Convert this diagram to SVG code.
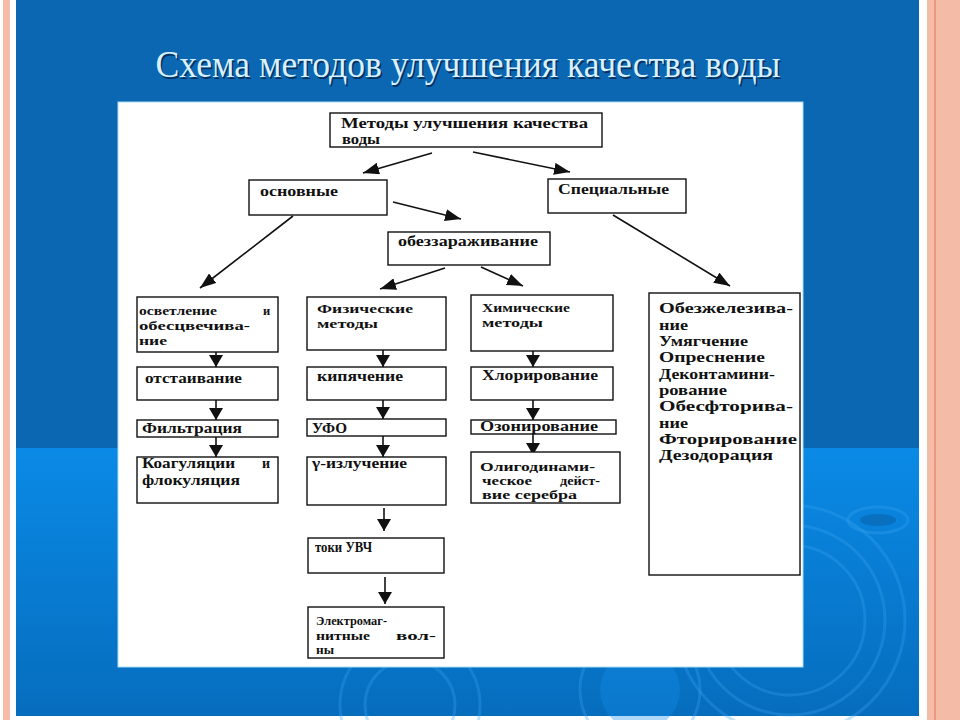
<svg xmlns="http://www.w3.org/2000/svg" width="960" height="720" viewBox="0 0 960 720">
<defs>
<linearGradient id="lowblue" x1="0" y1="0" x2="0" y2="1">
<stop offset="0" stop-color="#0a8ae6"/>
<stop offset="1" stop-color="#066dbd"/>
</linearGradient>
<marker id="ah" viewBox="0 0 16 12" refX="16" refY="6" markerWidth="16" markerHeight="12" orient="auto" markerUnits="userSpaceOnUse"><path d="M0,0 L16,6 L0,12 z" fill="#111"/></marker>
<marker id="ahv" viewBox="0 0 12 14" refX="12" refY="7" markerWidth="12" markerHeight="14" orient="auto" markerUnits="userSpaceOnUse"><path d="M0,0 L12,7 L0,14 z" fill="#111"/></marker>
</defs>
<style>
.box{fill:#fff;stroke:#111;stroke-width:1.4}
.t{font-family:"Liberation Serif","Times New Roman",serif;font-weight:bold;font-size:14px;fill:#111}
.s{font-size:12.5px}
.tl{font-family:"Liberation Serif","Times New Roman",serif;font-weight:bold;font-size:14.5px;fill:#111}
.c{stroke:#111;stroke-width:1.6;fill:none}
.d{marker-end:url(#ah)}
.v{marker-end:url(#ahv)}
.rip{fill:none;stroke:#3aa6f2;stroke-width:3;opacity:.3}
</style>
<!-- background -->
<rect x="0" y="0" width="960" height="720" fill="#fff"/>
<rect x="3" y="0" width="7" height="720" fill="#f6bca8"/>
<rect x="927" y="0" width="33" height="720" fill="#f4bca6"/>
<rect x="934" y="0" width="2" height="720" fill="#ec9a7a"/>
<rect x="16" y="0" width="903" height="448" fill="#0b67b2"/>
<rect x="16" y="448" width="903" height="268" fill="url(#lowblue)"/>
<g id="ripples">
<ellipse cx="878" cy="520" rx="18" ry="6" fill="#0a5ea6" opacity=".5"/>
<ellipse cx="878" cy="520" rx="30" ry="13" class="rip" stroke-width="1.5"/>
<circle cx="790" cy="620" r="75" class="rip"/>
<circle cx="790" cy="620" r="95" class="rip"/>
<circle cx="790" cy="620" r="115" class="rip" stroke-width="2"/>
<circle cx="410" cy="705" r="45" class="rip"/>
<circle cx="410" cy="705" r="70" class="rip" stroke-width="2"/>
<circle cx="640" cy="690" r="40" fill="#1590ec" opacity=".35"/>
<circle cx="640" cy="690" r="60" class="rip" stroke-width="2"/>
</g>
<text x="468" y="77" text-anchor="middle" textLength="625" lengthAdjust="spacingAndGlyphs" font-family="'Liberation Serif','Times New Roman',serif" font-size="38" fill="#08325e" transform="translate(1.5,1.5)">Схема методов улучшения качества воды</text>
<text x="468" y="77" text-anchor="middle" textLength="625" lengthAdjust="spacingAndGlyphs" font-family="'Liberation Serif','Times New Roman',serif" font-size="38" fill="#d8f0ff">Схема методов улучшения качества воды</text>
<rect x="118" y="102" width="685" height="565" fill="#fff" stroke="#a8dcf4" stroke-width="1"/>

<g id="connectors">
<line class="c d" x1="432" y1="153" x2="363" y2="173"/>
<line class="c d" x1="473" y1="152" x2="570" y2="172"/>
<line class="c d" x1="393" y1="202" x2="461" y2="219"/>
<line class="c d" x1="293" y1="216" x2="200" y2="288"/>
<line class="c d" x1="445" y1="268" x2="380" y2="289"/>
<line class="c d" x1="481" y1="267" x2="523" y2="286"/>
<line class="c d" x1="613" y1="215" x2="730" y2="286"/>
<line class="c v" x1="216" y1="343" x2="216" y2="367"/>
<line class="c v" x1="216" y1="393" x2="216" y2="420"/>
<line class="c v" x1="216" y1="437" x2="216" y2="457"/>
<line class="c v" x1="383" y1="343" x2="383" y2="367"/>
<line class="c v" x1="383" y1="393" x2="383" y2="419"/>
<line class="c v" x1="383" y1="432" x2="383" y2="457"/>
<line class="c v" x1="384" y1="508" x2="384" y2="531"/>
<line class="c v" x1="385" y1="577" x2="385" y2="604"/>
<line class="c v" x1="533" y1="343" x2="533" y2="367"/>
<line class="c v" x1="533" y1="393" x2="533" y2="420"/>
<line class="c v" x1="533" y1="430" x2="533" y2="455"/>
</g>

<g id="n-metody">
<rect class="box" x="330" y="113" width="272" height="34"/>
<text class="t" x="341" y="128" textLength="247" lengthAdjust="spacingAndGlyphs">Методы   улучшения   качества</text>
<text class="t" x="342" y="144" textLength="38" lengthAdjust="spacingAndGlyphs">воды</text>
</g>
<g id="n-osnovnye">
<rect class="box" x="249" y="180" width="138" height="35"/>
<text class="t" x="260" y="196" textLength="78" lengthAdjust="spacingAndGlyphs">основные</text>
</g>
<g id="n-specialnye">
<rect class="box" x="548" y="179" width="138" height="34"/>
<text class="t" x="558" y="194" textLength="111" lengthAdjust="spacingAndGlyphs">Специальные</text>
</g>
<g id="n-obezzar">
<rect class="box" x="388" y="232" width="162" height="33"/>
<text class="t" x="398" y="246" textLength="140" lengthAdjust="spacingAndGlyphs">обеззараживание</text>
</g>

<g id="n-osvetlenie">
<rect class="box" x="137" y="297" width="141" height="55"/>
<text class="t s" x="139" y="315" textLength="78" lengthAdjust="spacingAndGlyphs">осветление</text>
<text class="t s" x="263" y="315">и</text>
<text class="t s" x="139" y="330" textLength="111" lengthAdjust="spacingAndGlyphs">обесцвечива-</text>
<text class="t s" x="139" y="345" textLength="28" lengthAdjust="spacingAndGlyphs">ние</text>
</g>
<g id="n-otstaivanie">
<rect class="box" x="137" y="367" width="141" height="33"/>
<text class="t" x="145" y="383" textLength="97" lengthAdjust="spacingAndGlyphs">отстаивание</text>
</g>
<g id="n-filtracia">
<rect class="box" x="137" y="420" width="141" height="17"/>
<text class="t" x="142" y="433" textLength="100" lengthAdjust="spacingAndGlyphs">Фильтрация</text>
</g>
<g id="n-koagul">
<rect class="box" x="137" y="457" width="141" height="46"/>
<text class="t" x="142" y="468" textLength="93" lengthAdjust="spacingAndGlyphs">Коагуляции</text>
<text class="t" x="262" y="468">и</text>
<text class="t" x="142" y="485" textLength="98" lengthAdjust="spacingAndGlyphs">флокуляция</text>
</g>

<g id="n-fiz">
<rect class="box" x="307" y="297" width="139" height="53"/>
<text class="t s" x="317" y="313" textLength="96" lengthAdjust="spacingAndGlyphs">Физические</text>
<text class="t s" x="317" y="328" textLength="61" lengthAdjust="spacingAndGlyphs">методы</text>
</g>
<g id="n-kipyachenie">
<rect class="box" x="307" y="367" width="139" height="33"/>
<text class="t" x="317" y="381" textLength="86" lengthAdjust="spacingAndGlyphs">кипячение</text>
</g>
<g id="n-ufo">
<rect class="box" x="307" y="419" width="139" height="17"/>
<text class="t" x="312" y="433" textLength="35" lengthAdjust="spacingAndGlyphs">УФО</text>
</g>
<g id="n-gamma">
<rect class="box" x="307" y="457" width="139" height="48"/>
<text class="t" x="312" y="468" textLength="95" lengthAdjust="spacingAndGlyphs">γ-излучение</text>
</g>
<g id="n-uvch">
<rect class="box" x="308" y="538" width="136" height="35"/>
<text class="t" x="315" y="552" textLength="57" lengthAdjust="spacingAndGlyphs">токи УВЧ</text>
</g>
<g id="n-elmag">
<rect class="box" x="308" y="607" width="136" height="51"/>
<text class="t s" x="316" y="625" textLength="71" lengthAdjust="spacingAndGlyphs">Электромаг-</text>
<text class="t s" x="316" y="640" textLength="54" lengthAdjust="spacingAndGlyphs">нитные</text>
<text class="t s" x="396" y="640" textLength="40" lengthAdjust="spacingAndGlyphs">вол-</text>
<text class="t s" x="316" y="654" textLength="18" lengthAdjust="spacingAndGlyphs">ны</text>
</g>

<g id="n-him">
<rect class="box" x="471" y="295" width="142" height="56"/>
<text class="t s" x="482" y="312" textLength="88" lengthAdjust="spacingAndGlyphs">Химические</text>
<text class="t s" x="482" y="327" textLength="61" lengthAdjust="spacingAndGlyphs">методы</text>
</g>
<g id="n-hlor">
<rect class="box" x="471" y="367" width="142" height="33"/>
<text class="t" x="482" y="380" textLength="116" lengthAdjust="spacingAndGlyphs">Хлорирование</text>
</g>
<g id="n-ozon">
<rect class="box" x="471" y="420" width="145" height="14"/>
<text class="t" x="480" y="431" textLength="118" lengthAdjust="spacingAndGlyphs">Озонирование</text>
</g>
<g id="n-oligo">
<rect class="box" x="471" y="452" width="149" height="51"/>
<text class="t s" x="480" y="471" textLength="115" lengthAdjust="spacingAndGlyphs">Олигодинами-</text>
<text class="t s" x="482" y="485" textLength="50" lengthAdjust="spacingAndGlyphs">ческое</text>
<text class="t s" x="560" y="485" textLength="40" lengthAdjust="spacingAndGlyphs">дейст-</text>
<text class="t s" x="482" y="499" textLength="95" lengthAdjust="spacingAndGlyphs">вие серебра</text>
</g>

<g id="n-special-list">
<rect class="box" x="649" y="293" width="151" height="282"/>
<text class="tl" x="659" y="313" textLength="134" lengthAdjust="spacingAndGlyphs">Обезжелезива-</text>
<text class="tl" x="659" y="329.5" textLength="29" lengthAdjust="spacingAndGlyphs">ние</text>
<text class="tl" x="659" y="346" textLength="89" lengthAdjust="spacingAndGlyphs">Умягчение</text>
<text class="tl" x="659" y="362" textLength="106" lengthAdjust="spacingAndGlyphs">Опреснение</text>
<text class="tl" x="659" y="378.5" textLength="116" lengthAdjust="spacingAndGlyphs">Деконтамини-</text>
<text class="tl" x="659" y="395" textLength="68" lengthAdjust="spacingAndGlyphs">рование</text>
<text class="tl" x="659" y="411" textLength="134" lengthAdjust="spacingAndGlyphs">Обесфторива-</text>
<text class="tl" x="659" y="427.5" textLength="29" lengthAdjust="spacingAndGlyphs">ние</text>
<text class="tl" x="659" y="444" textLength="138" lengthAdjust="spacingAndGlyphs">Фторирование</text>
<text class="tl" x="659" y="460" textLength="114" lengthAdjust="spacingAndGlyphs">Дезодорация</text>
</g>
</svg>
